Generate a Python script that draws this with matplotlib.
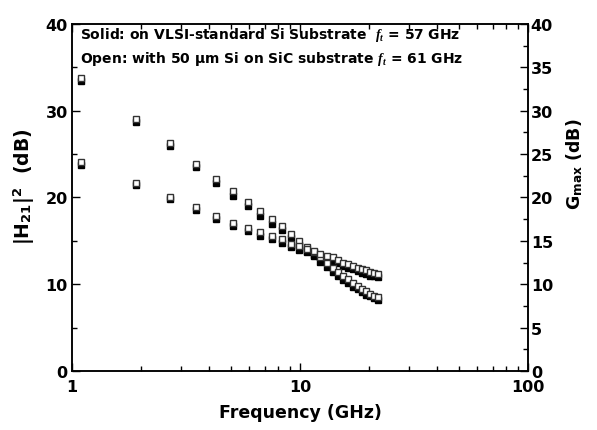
import numpy as np
import matplotlib
matplotlib.use('Agg')
from matplotlib import pyplot as plt
from matplotlib.ticker import MultipleLocator, LogLocator, NullFormatter, FixedFormatter, FixedLocator

plt.rcParams['font.family'] = ['DejaVu Sans']
plt.rcParams['font.weight'] = 'bold'
plt.rcParams['mathtext.fontset'] = 'custom'
plt.rcParams['mathtext.rm'] = 'DejaVu Sans:bold'
plt.rcParams['mathtext.bf'] = 'DejaVu Sans:bold'
plt.rcParams['mathtext.it'] = 'Liberation Serif:italic'

# frequencia (GHz)
freq = [1.1, 1.9, 2.7, 3.5, 4.3, 5.1, 5.9, 6.7, 7.5, 8.3, 9.1, 9.9, 10.7, 11.5,
        12.3, 13.1, 13.9, 14.7, 15.5, 16.3, 17.1, 17.9, 18.7, 19.5, 20.3, 21.1, 21.9]

# |H21|^2 (dB)
h21_aberto = [33.8, 29.0, 26.3, 23.9, 22.1, 20.7, 19.5, 18.4, 17.5, 16.7, 15.8, 15.0, 14.3, 13.7,
              13.1, 12.5, 11.9, 11.4, 11.0, 10.6, 10.2, 9.8, 9.5, 9.2, 8.9, 8.7, 8.5]
h21_solido = [33.4, 28.7, 25.9, 23.5, 21.7, 20.2, 19.0, 17.9, 17.0, 16.2, 15.3, 14.5, 13.8, 13.2,
              12.6, 12.0, 11.4, 10.9, 10.5, 10.1, 9.7, 9.4, 9.1, 8.8, 8.6, 8.4, 8.2]

# Gmax (dB)
gmax_aberto = [24.1, 21.7, 20.1, 18.9, 17.9, 17.1, 16.5, 16.0, 15.6, 15.2, 14.6, 14.4, 14.1, 13.8,
               13.5, 13.3, 13.1, 12.8, 12.5, 12.3, 12.1, 11.9, 11.7, 11.6, 11.4, 11.3, 11.2]
gmax_solido = [23.7, 21.4, 19.8, 18.6, 17.5, 16.7, 16.1, 15.6, 15.2, 14.8, 14.3, 14.0, 13.7, 13.4,
               13.1, 12.9, 12.7, 12.4, 12.1, 11.9, 11.7, 11.5, 11.3, 11.2, 11.0, 10.9, 10.8]

fig = plt.figure(figsize=(5.97, 4.31), dpi=100)
ax = fig.add_axes([0.1206, 0.1369, 0.7638, 0.8051])
ax2 = ax.twinx()

ms = 5
# cheios primeiro, abertos por cima
ax.plot(freq, h21_solido, 's', ms=ms, mfc='black', mec='black', mew=1.0)
ax.plot(freq, gmax_solido, 's', ms=ms, mfc='black', mec='black', mew=1.0)
ax.plot(freq, h21_aberto, 's', ms=ms, mfc='white', mec='#333333', mew=1.0)
ax.plot(freq, gmax_aberto, 's', ms=ms, mfc='white', mec='#333333', mew=1.0)

ax.set_xscale('log')
ax.set_xlim(1, 100)
ax.set_ylim(0, 40)
ax2.set_ylim(0, 40)

ax.xaxis.set_major_locator(FixedLocator([1, 10, 100]))
ax.xaxis.set_major_formatter(FixedFormatter(['1', '10', '100']))
ax.xaxis.set_minor_locator(LogLocator(base=10, subs=np.arange(2, 10)))
ax.xaxis.set_minor_formatter(NullFormatter())
ax.yaxis.set_major_locator(MultipleLocator(10))
ax.yaxis.set_minor_locator(MultipleLocator(5))
ax2.yaxis.set_major_locator(MultipleLocator(5))
ax2.yaxis.set_minor_locator(MultipleLocator(2.5))

ax.tick_params(which='both', direction='in', top=True, right=False, width=1.0, labelsize=11.5)
ax.tick_params(axis='y', pad=3)
ax.tick_params(axis='x', pad=6)
ax.tick_params(which='major', length=6)
ax.tick_params(which='minor', length=3.5)
ax2.tick_params(which='both', direction='in', width=1.0, labelsize=11.5, pad=2)
ax2.tick_params(which='major', length=6)
ax2.tick_params(which='minor', length=3.5)

for a in (ax, ax2):
    for s in a.spines.values():
        s.set_linewidth(1.1)

ax.set_xlabel('Frequency (GHz)', fontsize=12.5, fontweight='bold', labelpad=6)
ax.set_ylabel(r'|H$_{\mathrm{21}}$|$^{\mathrm{2}}$  (dB)', fontsize=13.5, fontweight='bold')
ax2.set_ylabel(r'G$_{\mathrm{max}}$ (dB)', fontsize=12.5, fontweight='bold')
ax.yaxis.set_label_coords(-0.077, 0.535)
ax2.yaxis.set_label_coords(1.08, 0.6)

ax.text(0.0175, 0.959, r'Solid: on VLSI-standard Si Substrate  $f_t$ = 57 GHz',
        transform=ax.transAxes, fontsize=10, fontweight='bold', va='baseline', ha='left')
ax.text(0.0175, 0.890, r'Open: with 50 µm Si on SiC substrate $f_t$ = 61 GHz',
        transform=ax.transAxes, fontsize=10, fontweight='bold', va='baseline', ha='left')

plt.savefig('out.png', dpi=100)
